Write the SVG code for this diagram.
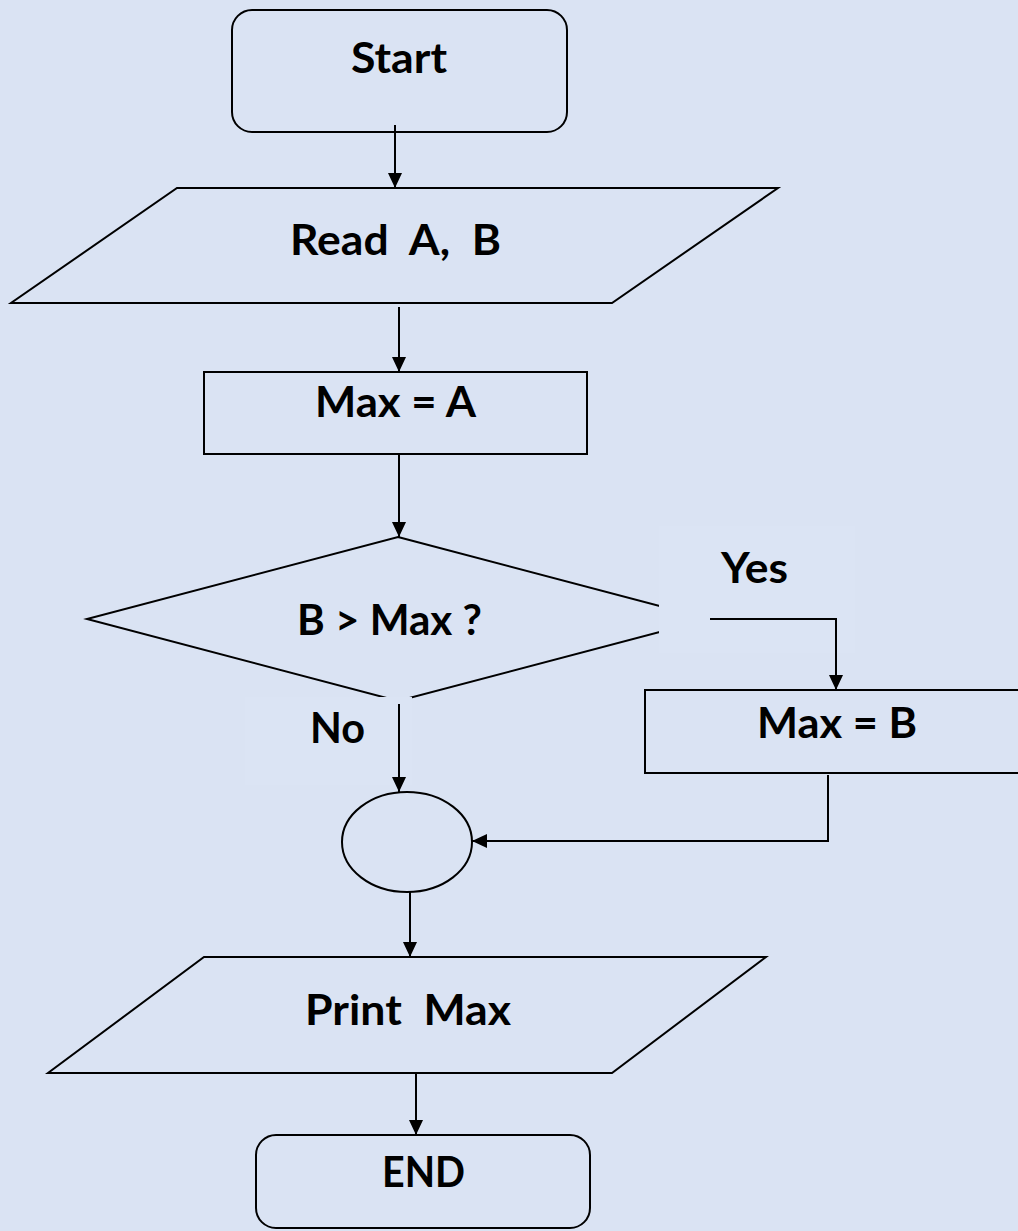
<svg xmlns="http://www.w3.org/2000/svg" width="1018" height="1231" viewBox="0 0 1018 1231">
<defs>
<style>
.shape{fill:#dae3f3;stroke:#000;stroke-width:2}
.conn{fill:none;stroke:#000;stroke-width:2}
.lbl{font-family:Lato,"Liberation Sans",sans-serif;font-weight:bold;font-size:42px;fill:#000;text-anchor:middle;white-space:pre}
.lblbox{fill:#dbe4f4;stroke:none}
</style>
<marker id="arrow" viewBox="0 0 15 14" refX="15" refY="7" markerWidth="15" markerHeight="14" markerUnits="userSpaceOnUse" orient="auto">
<path d="M0,0 L15,7 L0,14 z" fill="#000"/>
</marker>
</defs>
<rect x="0" y="0" width="1018" height="1231" fill="#dae3f3"/>

<g id="start">
<rect class="shape" x="232" y="10" width="335" height="122" rx="20" ry="20"/>
<text class="lbl" x="399" y="73" textLength="96" lengthAdjust="spacingAndGlyphs">Start</text>
</g>

<g id="read">
<polygon class="shape" points="177,188 778,188 612,303 11,303"/>
<text class="lbl" x="395.5" y="255" xml:space="preserve" textLength="211" lengthAdjust="spacingAndGlyphs">Read  A,  B</text>
</g>

<g id="maxA">
<rect class="shape" x="204" y="372" width="383" height="82"/>
<text class="lbl" x="395.5" y="417" xml:space="preserve" textLength="161" lengthAdjust="spacingAndGlyphs">Max = A</text>
</g>

<g id="decision">
<polygon class="shape" points="398,537 709,619 398,701 87,619"/>
<text class="lbl" x="389.5" y="635" xml:space="preserve" textLength="185" lengthAdjust="spacingAndGlyphs">B &gt; Max ?</text>
</g>

<g id="maxB">
<rect class="shape" x="645" y="690" width="380" height="83"/>
<text class="lbl" x="837" y="738" xml:space="preserve" textLength="160" lengthAdjust="spacingAndGlyphs">Max = B</text>
</g>

<g id="join">
<ellipse class="shape" cx="407" cy="842" rx="65" ry="50"/>
</g>

<g id="print">
<polygon class="shape" points="204,957 766,957 612,1073 48,1073"/>
<text class="lbl" x="408" y="1025" xml:space="preserve" textLength="206" lengthAdjust="spacingAndGlyphs">Print  Max</text>
</g>

<g id="end">
<rect class="shape" x="256" y="1135" width="334" height="93" rx="20" ry="20"/>
<text class="lbl" x="423.5" y="1187" textLength="83" lengthAdjust="spacingAndGlyphs">END</text>
</g>

<g id="edge-labels">
<rect class="lblbox" x="659" y="526" width="196" height="127"/>
<rect class="lblbox" x="245" y="697" width="167" height="88"/>
</g>

<g id="connectors">
<line class="conn" x1="395" y1="125" x2="395" y2="188" marker-end="url(#arrow)"/>
<line class="conn" x1="399" y1="307" x2="399" y2="372" marker-end="url(#arrow)"/>
<line class="conn" x1="399" y1="454" x2="399" y2="537" marker-end="url(#arrow)"/>
<polyline class="conn" points="710,619 836,619 836,690" marker-end="url(#arrow)"/>
<line class="conn" x1="399" y1="704" x2="399" y2="792" marker-end="url(#arrow)"/>
<polyline class="conn" points="828,775 828,841 472,841" marker-end="url(#arrow)"/>
<line class="conn" x1="410" y1="892" x2="410" y2="957" marker-end="url(#arrow)"/>
<line class="conn" x1="416" y1="1073" x2="416" y2="1135" marker-end="url(#arrow)"/>
</g>

<g id="edge-label-text">
<text class="lbl" x="754.5" y="583" textLength="67" lengthAdjust="spacingAndGlyphs">Yes</text>
<text class="lbl" x="337.5" y="743" textLength="55" lengthAdjust="spacingAndGlyphs">No</text>
</g>
</svg>
